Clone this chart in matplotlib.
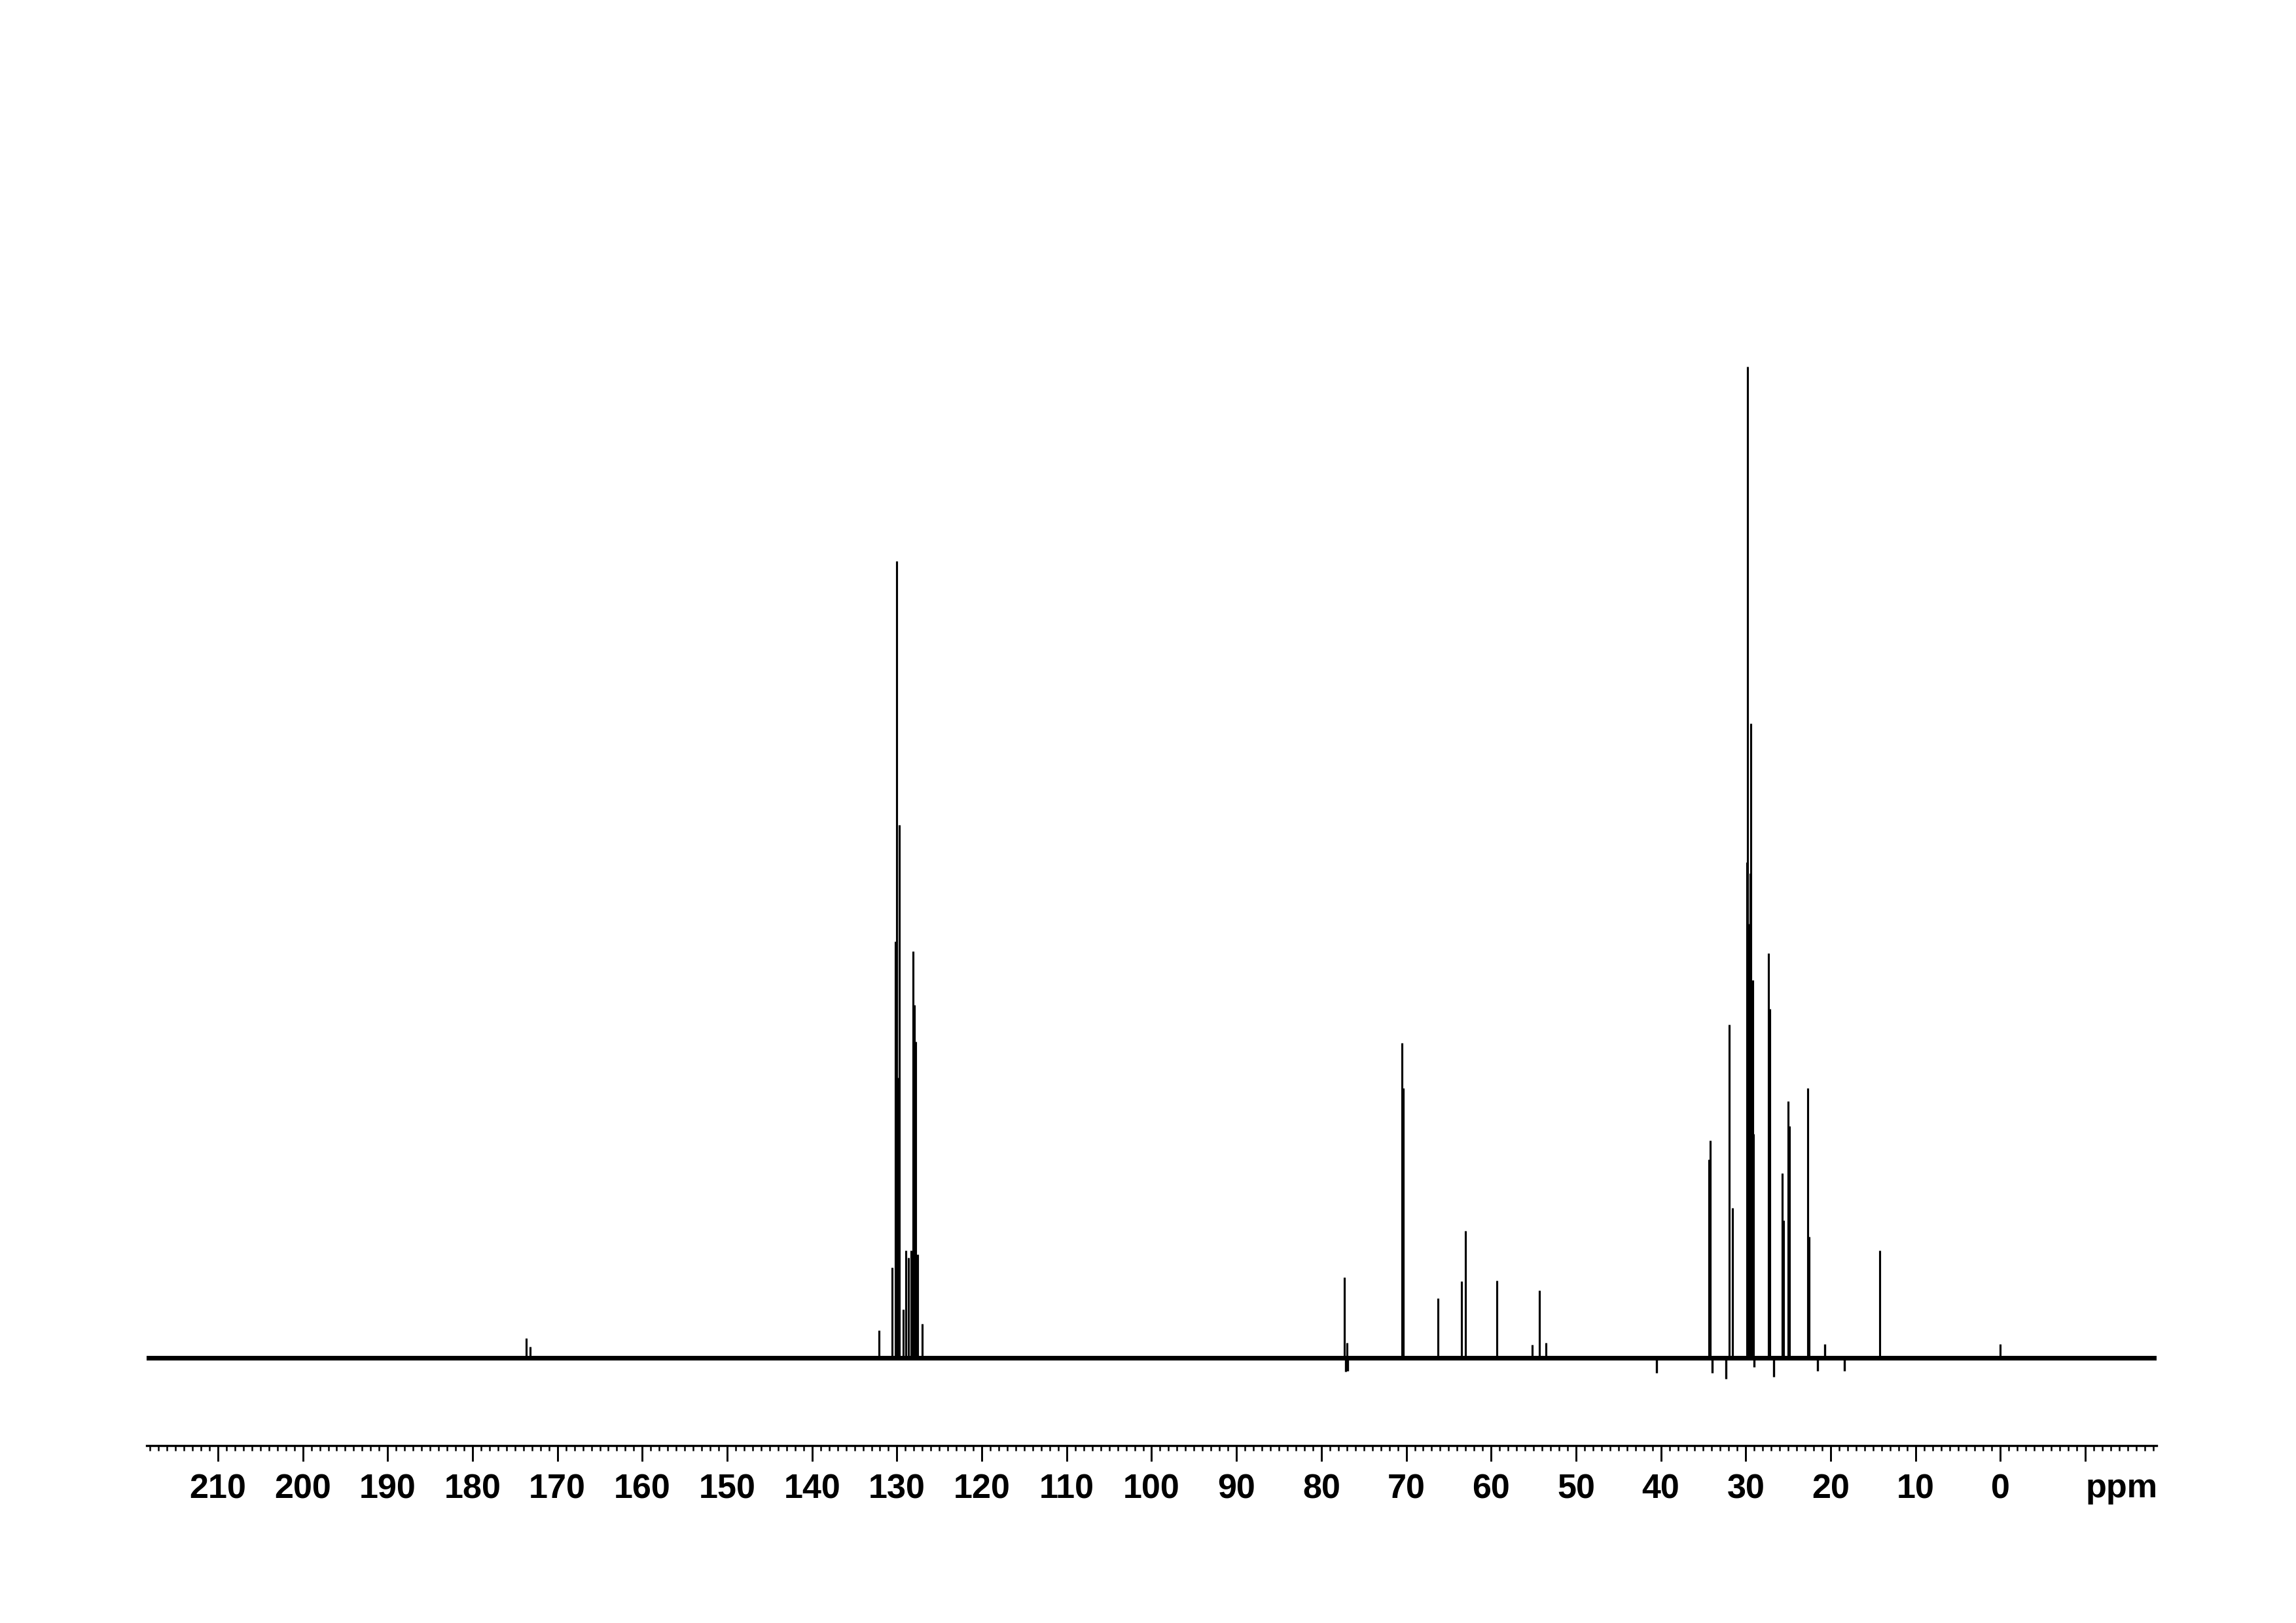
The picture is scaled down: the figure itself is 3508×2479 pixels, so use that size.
import matplotlib
matplotlib.use('Agg')
import matplotlib.pyplot as plt
from matplotlib.ticker import MultipleLocator
from matplotlib.transforms import blended_transform_factory

plt.rcParams['font.family'] = ['Liberation Sans', 'DejaVu Sans']

# 13C NMR peaks: shift (ppm) and height (% of tallest)
peak_ppm = [173.66, 173.20,
            132.08, 130.54, 130.20, 130.02, 129.85, 129.71, 129.30, 128.94,
            128.61, 128.30, 128.07, 127.92, 127.79, 127.53, 126.99,
            77.29, 77.00, 70.48, 70.35, 66.26, 63.46, 63.05, 59.35,
            55.16, 54.31, 53.52,
            34.37, 34.16, 31.93, 31.57, 29.87, 29.77, 29.56, 29.51, 29.38,
            29.20, 29.10, 27.32, 27.17, 25.71, 25.55, 25.01, 24.86, 22.70,
            22.55, 14.18, 0.00]
peak_height = [2.0, 1.1,
               2.8, 9.1, 42.0, 80.4, 28.3, 53.8, 4.9, 10.8,
               10.1, 10.8, 41.0, 35.6, 31.9, 10.4, 3.4,
               8.1, 1.5, 31.8, 27.2, 6.0, 7.7, 12.8, 7.8,
               1.3, 6.8, 1.5,
               20.0, 21.9, 33.6, 15.1, 50.0, 100.0, 43.8, 48.9, 64.0,
               38.1, 22.6, 40.8, 35.2, 18.6, 13.9, 25.9, 23.4, 27.2,
               12.2, 10.8, 1.4]

# baseline distortions (phase dips / humps) near the strong signals
dist_ppm = [77.10, 76.90, 40.50, 33.95, 32.30, 29.05, 26.72, 21.56, 20.73, 18.38]
dist_offset = [-1.4, -1.3, -1.5, -1.5, -2.1, -0.9, -1.9, -1.3, 1.4, -1.3]

major_ticks = list(range(210, -20, -10))
tick_labels = [str(t) for t in major_ticks[:-1]] + ['']

fig = plt.figure(figsize=(3508 / 300, 2479 / 300), dpi=300)
ax = fig.add_axes([0.06385, 0.10932, 0.87543, 0.76967])

ax.axhline(0, color='black', lw=1.7, zorder=2)
ax.vlines(peak_ppm, 0, peak_height, color='black', lw=0.75, zorder=3)
ax.vlines(dist_ppm, 0, dist_offset, color='black', lw=0.8, zorder=3)

ax.set_xlim(218.4, -18.4)
ax.set_ylim(-8.86, 117.2)

for side in ['left', 'right', 'top']:
    ax.spines[side].set_visible(False)
ax.spines['bottom'].set_linewidth(0.8)
ax.set_yticks([])

ax.set_xticks(major_ticks)
ax.set_xticklabels(tick_labels, fontsize=12.5, fontweight='bold')
ax.xaxis.set_minor_locator(MultipleLocator(1))
ax.tick_params(axis='x', which='major', direction='out', length=5.8, width=0.7, pad=4.5)
ax.tick_params(axis='x', which='minor', direction='out', length=1.8, width=0.6)

trans = blended_transform_factory(ax.transData, ax.transAxes)
ax.text(-14.3, -0.0415, 'ppm', transform=trans, ha='center', va='baseline',
        fontsize=12.5, fontweight='bold')

fig.savefig('out.png', dpi=300)
